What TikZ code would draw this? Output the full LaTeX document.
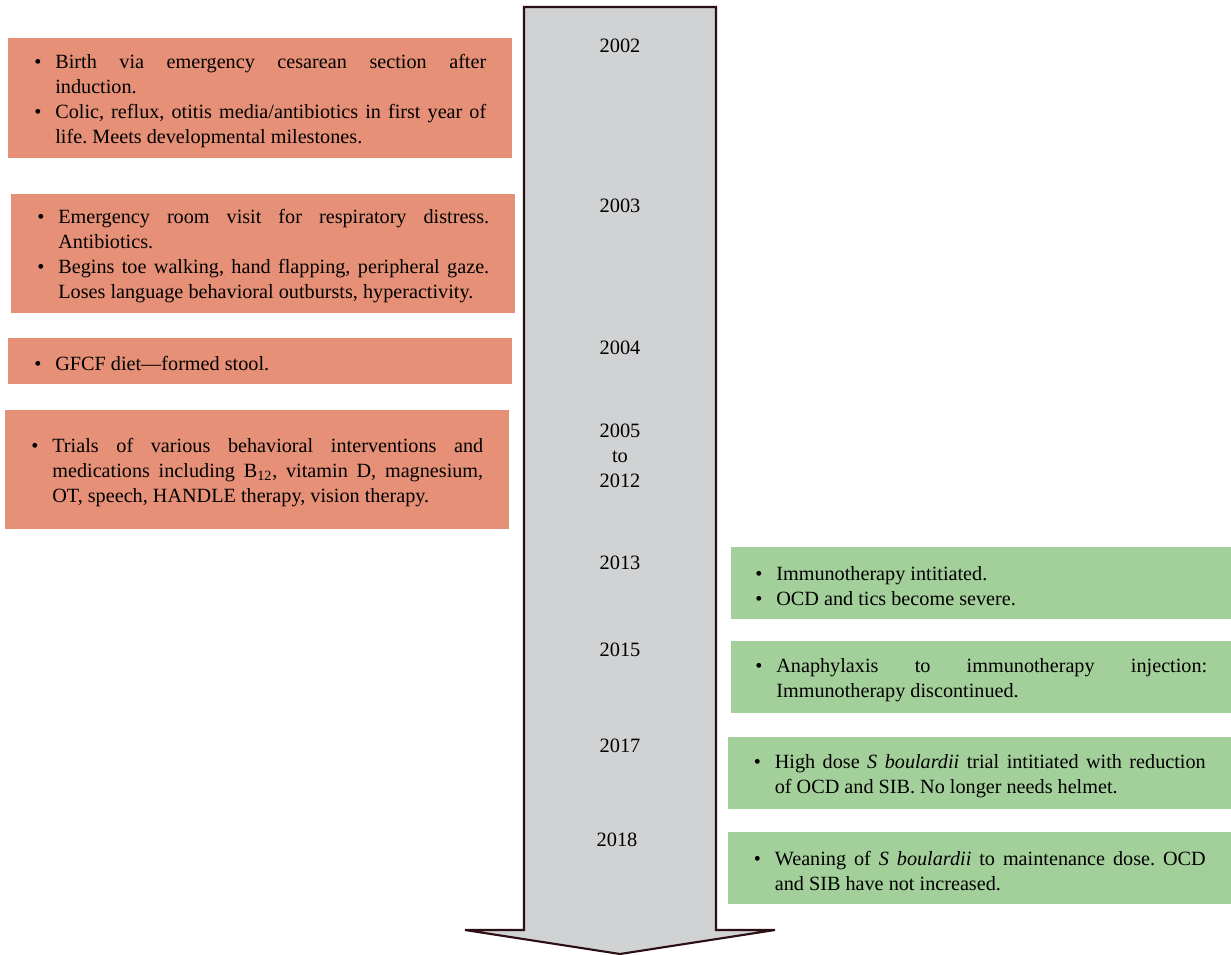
\documentclass[tikz,border=0pt]{standalone}
\usepackage{fontspec}
\setmainfont{Liberation Serif}
\usepackage{enumitem}
\usepackage{tikz}
\definecolor{salmon}{HTML}{E59077}
\definecolor{sage}{HTML}{A3CF9A}
\definecolor{shaft}{HTML}{D1D2D4}
\definecolor{rim}{HTML}{2B0F14}
\setlist[itemize]{nosep,leftmargin=0.42cm,labelsep=0.28cm,after=\vspace{3.4pt}}
\tikzstyle{yearlabel}=[inner sep=0pt,align=center,font=\fontsize{11.6}{14.2}\selectfont]
\tikzstyle{eventbox}=[anchor=north west,inner sep=0pt,text width=9.04cm,align=justify,
  font=\fontsize{11.5}{14.2}\selectfont\frenchspacing]
\tikzstyle{oldbox}=[eventbox,fill=salmon,minimum width=10.08cm]
\tikzstyle{newbox}=[eventbox,fill=sage,minimum height=1.44cm]

\begin{document}
\begin{tikzpicture}[x=0.02cm,y=-0.02cm]
\useasboundingbox (0,0) rectangle (1231,955);

% time arrow
\draw[rim,fill=shaft,line width=1.2pt,line join=miter]
  (524,7) -- (716,7) -- (716,930) -- (775,930) -- (620,954) -- (465,930) -- (524,930) -- cycle;

\node[yearlabel] (y2002) at (620,46) {2002};
\node[yearlabel] (y2003) at (620,206) {2003};
\node[yearlabel] (y2004) at (620,348) {2004};
\node[yearlabel] (y2005) at (620,456) {2005\\to\\2012};
\node[yearlabel] (y2013) at (620,563) {2013};
\node[yearlabel] (y2015) at (620,650) {2015};
\node[yearlabel] (y2017) at (620,746) {2017};
\node[yearlabel] (y2018) at (617,840) {2018};

% before treatment
\node[oldbox,minimum height=2.4cm] (e2002) at (8,38) {\begin{itemize}
  \item Birth via emergency cesarean section after\linebreak induction.
  \item Colic, reflux, otitis media/antibiotics in first year of\linebreak life. Meets developmental milestones.
\end{itemize}};
\node[oldbox,minimum height=2.38cm] (e2003) at (11,194) {\begin{itemize}
  \item Emergency room visit for respiratory distress.\linebreak Antibiotics.
  \item Begins toe walking, hand flapping, peripheral gaze.\linebreak Loses language behavioral outbursts, hyperactivity.
\end{itemize}};
\node[oldbox,minimum height=0.92cm] (e2004) at (8,338) {\begin{itemize}
  \item GFCF diet---formed stool.
\end{itemize}};
\node[oldbox,minimum height=2.38cm] (e2005) at (5,410) {\begin{itemize}
  \item Trials of various behavioral interventions and\linebreak medications including B\textsubscript{12}, vitamin D, magnesium,\linebreak OT, speech, HANDLE therapy, vision therapy.
\end{itemize}};

% after treatment
\node[newbox,minimum width=10cm] (e2013) at (731,547) {\begin{itemize}
  \item Immunotherapy intitiated.
  \item OCD and tics become severe.
\end{itemize}};
\node[newbox,minimum width=10cm] (e2015) at (731,641) {\begin{itemize}
  \item Anaphylaxis to immunotherapy injection:\linebreak Immunotherapy discontinued.
\end{itemize}};
\node[newbox,minimum width=10.06cm] (e2017) at (728,737) {\begin{itemize}
  \item High dose \textit{S boulardii} trial intitiated with reduction\linebreak of OCD and SIB. No longer needs helmet.
\end{itemize}};
\node[newbox,minimum width=10.06cm] (e2018) at (728,832) {\begin{itemize}
  \item Weaning of \textit{S boulardii} to maintenance dose. OCD\linebreak and SIB have not increased.
\end{itemize}};

\end{tikzpicture}
\end{document}
